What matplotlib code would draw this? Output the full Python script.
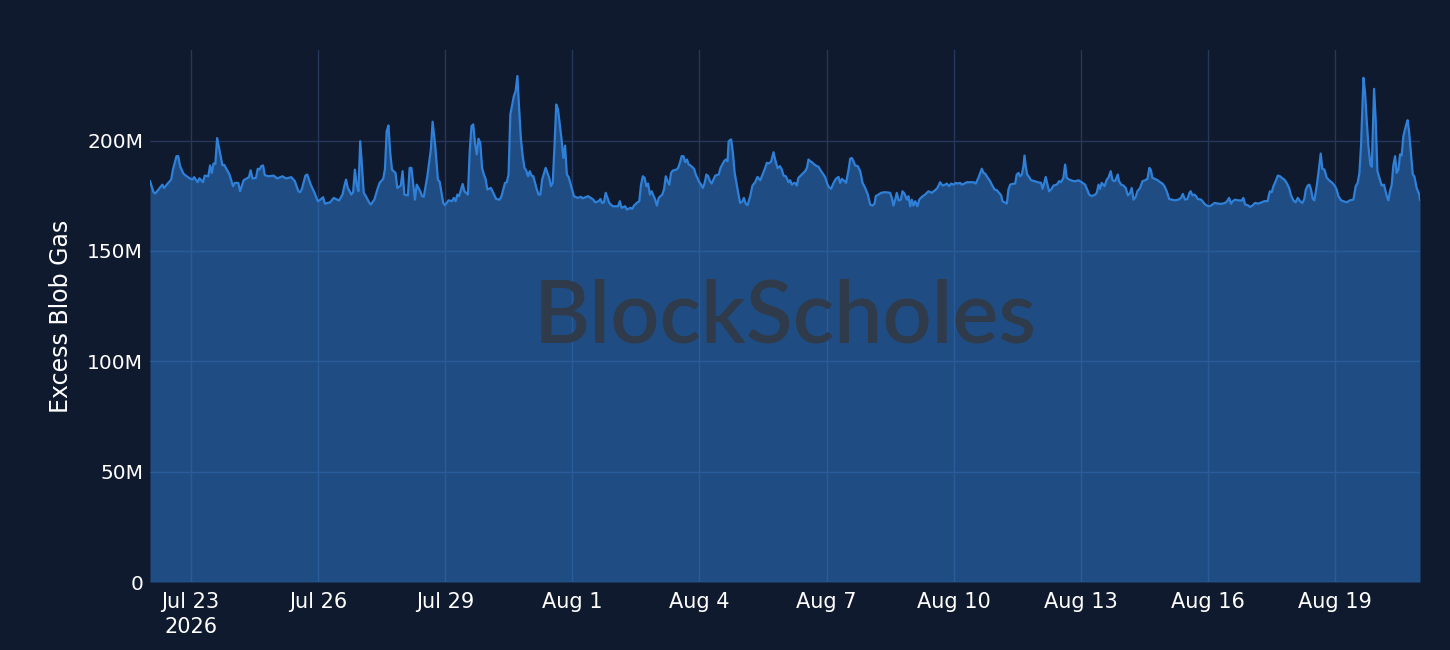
import matplotlib
matplotlib.use("Agg")
import matplotlib.pyplot as plt
import pandas as pd
import numpy as np

# ---- data: hours after 2026-07-22 00:00, excess blob gas in millions ----
hours = [
    1, 3, 4, 8, 9, 11, 13, 14, 16, 17, 18, 20, 23, 25, 26, 28, 29, 31, 32, 34, 35, 36, 37, 38, 39, 40,
    42, 43, 46, 48, 49, 51, 52, 54, 57, 58, 59, 61, 62, 63, 64, 65, 66, 68, 71, 73, 76, 78, 81, 83, 85,
    86, 87, 89, 90,
    92, 94, 96, 97, 99, 100, 103, 105, 108, 110, 111, 112, 113, 115, 116, 117, 118, 119, 120, 121, 122,
    123, 125, 126, 128, 130, 131, 133, 134, 135, 136, 137, 138, 140, 141, 143, 144, 145, 147, 148, 149,
    151, 152, 154, 155, 156, 158, 160, 161, 162.5, 164, 165, 167, 168, 170, 172, 173, 174, 175, 176, 178,
    179, 181,
    182, 183, 184, 185, 186, 187, 188, 189, 190, 191, 192, 194, 196, 197, 199, 200, 202, 203, 204, 205,
    207, 208, 209, 210, 211, 212, 213, 214, 215, 216, 217, 218, 220, 221, 222, 223, 225, 227, 228, 229,
    230, 231, 232, 234, 235, 236, 237, 238, 240, 241, 243, 245, 246, 249, 252, 253, 255, 256, 257, 258,
    259, 261, 263, 266, 267, 268, 270,
    271, 273, 274, 275, 277, 278, 279, 280, 281, 282, 283, 284, 285, 287, 288, 289, 291, 292, 293, 294,
    295, 296, 297, 299, 300, 301, 302, 303, 304, 305, 306, 307, 309, 310, 312, 313, 314, 315, 316, 317,
    318, 319, 321, 323, 324, 325, 326, 327, 328, 328.6, 330, 331, 332, 334, 335.1, 336.5, 337.2, 338.3,
    339.3, 340.8, 342.1, 343.6, 344.9, 346.5, 347.8, 349.3, 350.2, 351.5, 352.7, 354.0, 354.9, 356.3,
    357.6, 358.7, 359.7, 361.0,
    362.5, 363.4, 364.4, 365.7, 366.6, 367.2, 368.1, 370.0, 371.9, 372.9, 373.8, 374.8, 375.7, 377.2,
    378.5, 379.5, 380.4, 381.7, 383.2, 384.6, 385.5, 386.6, 388.0, 389.3, 390.8, 391.7, 392.7, 394.2,
    395.1, 396.5, 397.4, 398.3, 399.3, 400.2, 401.7, 403.1, 404.4, 405.9, 407.4, 408.7, 410.0, 411.2,
    411.9, 413.4, 414.9, 417.2, 420.0, 421.0, 421.9, 422.9, 423.8, 424.8, 426.1, 427.0, 428.1, 429.5,
    430.4, 431.4, 432.3, 433.2, 434.2, 435.5, 436.5, 438.0, 439.8, 441.7, 443.6, 445.5, 446.8, 448.3,
    449.7, 451.2,
    452.1, 453.4, 454.6, 455.9, 457.2, 458.3, 459.6, 460.6, 462.1, 463.4, 465.3, 467.2, 468.5, 470.0,
    471.0, 471.9, 472.9, 473.8, 475.3, 476.6, 477.6, 479.1, 480.4, 481.7, 482.9, 483.6, 484.7, 486.1,
    487.0, 488.0, 488.9, 490.8, 491.7, 492.7, 493.6, 494.6, 495.5, 496.1, 496.8, 497.6, 498.7, 499.8,
    501.7, 503.6, 505.5, 506.3, 507.2, 508.1, 509.1, 510.0, 511.2, 512.5, 514.4, 515.7, 516.8, 518.1,
    519.1, 520.0, 521.4, 523.8, 525.3, 526.6, 528.5, 530.4, 531.4, 532.7, 534.2, 536.1, 537.0, 538.0,
    538.9, 539.8, 541.4, 542.7,
    543.6, 544.9, 545.9, 547.4, 548.9, 549.6, 550.8, 552.1, 553.4, 554.6, 555.9, 556.8, 557.8, 559.1,
    560.0, 561.5, 562.9, 564.4, 565.7, 566.8, 567.6, 568.5, 570.0, 571.5, 572.9, 574.2, 575.3, 576.6,
    578.0, 579.5, 581.3, 583.2, 584.7, 585.7, 587.0, 588.3, 589.5, 590.2, 591.2, 592.3, 593.2, 594.2,
    596.1, 597.4, 598.3, 600.2, 601.7, 603.6, 605.9, 607.8, 609.6, 610.8, 611.9, 613.0, 614.0, 615.3,
    617.2, 619.1, 620.0, 621.0, 622.5, 623.8, 625.1, 626.6, 628.5, 630.4, 631.9,
    633.8, 634.5, 635.1, 636.1, 637.0, 638.3, 639.5, 640.8, 641.7, 643.2, 644.5, 645.9, 647.0, 648.3,
    649.6, 650.8, 652.1, 653.4, 654.5, 655.3, 656.4, 657.4, 658.3, 659.3, 660.2, 661.5, 662.5, 663.8,
    664.7, 665.9, 667.2, 669.1, 670.4, 671.9, 672.8, 673.8, 675.3, 676.6, 678.5, 680.4, 682.3, 683.6,
    684.7, 685.7, 686.6, 688.0, 688.9, 689.8, 690.8, 691.9, 692.7, 694.0, 694.9, 695.9, 697.4, 698.3,
    699.6, 701.2, 702.1, 703.0, 704.0, 704.9, 705.9, 706.8, 707.8, 708.7, 709.6, 710.6, 711.5, 712.5,
    713.0, 713.8, 714.7, 715.9, 716.8, 718.1, 719.6, 720.0,
]

excess_blob_gas_m = [
    181.6, 176.6, 176.0, 180.0, 178.5, 180.5, 182.3, 186.8, 192.9, 192.9, 188.4, 184.9, 183.1, 182.3,
    183.4, 181.1, 182.9, 181.1, 184.1, 183.8, 188.7, 185.3, 189.6, 189.4, 201.1, 197.1, 188.7, 189.0,
    184.6, 179.3, 180.8, 180.8, 177.0, 182.0, 183.4, 186.5, 182.8, 183.1, 187.2, 186.8, 188.4, 188.7,
    184.3, 183.8, 184.1, 182.8, 183.8, 182.8, 183.4, 181.6, 177.0, 176.6, 178.1, 184.1, 184.6,
    180.0, 176.6, 172.5, 172.9, 174.3, 171.4, 172.0, 174.0, 172.8, 175.5, 179.3, 182.3, 178.5, 175.5,
    176.6, 186.8, 180.0, 177.0, 199.7, 188.4, 176.3, 175.1, 172.0, 171.0, 173.2, 178.5, 180.8, 182.6,
    186.8, 204.2, 206.8, 194.4, 186.8, 185.3, 178.5, 179.6, 186.1, 175.5, 175.1, 187.6, 187.6, 173.2,
    180.0, 177.0, 174.8, 174.5, 183.8, 195.9, 208.5, 197.4, 182.3, 181.3, 171.7, 170.7, 172.9, 172.5,
    174.0, 172.5, 175.5, 174.8, 180.3, 177.0, 175.5,
    195.0, 206.5, 207.3, 198.9, 193.7, 200.8, 198.9, 187.6, 184.6, 182.6, 177.8, 178.5, 175.1, 173.5,
    173.2, 174.8, 180.8, 181.1, 184.6, 211.8, 220.1, 222.4, 229.2, 214.1, 200.5, 192.9, 187.6, 186.4,
    183.8, 186.1, 184.1, 183.8, 177.8, 175.5, 175.5, 182.3, 187.6, 183.1, 179.3, 180.8, 197.4, 216.3,
    214.1, 200.5, 192.1, 197.7, 184.6, 183.5, 177.8, 174.8, 174.0, 174.5, 173.8, 174.8, 173.2, 172.0,
    172.5, 173.5, 171.7, 172.0, 176.3, 171.7, 170.2, 170.2, 172.5, 169.5, 170.2,
    168.7, 169.5, 169.0, 170.5, 172.0, 172.5, 180.0, 183.8, 183.1, 179.3, 180.5, 175.5, 177.0, 173.2,
    170.5, 174.0, 175.5, 177.8, 183.8, 181.6, 180.0, 185.3, 186.4, 186.8, 187.6, 189.9, 192.9, 192.9,
    190.2, 191.4, 189.1, 188.7, 187.2, 184.6, 181.1, 180.0, 178.5, 180.8, 184.6, 183.8, 181.6, 180.5,
    184.1, 184.6, 187.6, 189.1, 190.6, 191.4, 190.6, 199.7, 200.5, 194.4, 185.3, 176.3, 171.7, 172.5,
    174.0, 171.3, 170.7, 174.8, 179.6, 181.1, 183.5, 182.0, 184.6, 187.6, 189.9, 189.6, 190.6, 194.7,
    191.4, 187.5, 188.4, 186.8, 184.1, 183.8,
    181.1, 182.0, 180.0, 180.8, 180.5, 179.6, 183.1, 184.6, 186.1, 187.6, 191.4, 190.6, 190.2, 189.1,
    188.4, 188.1, 186.8, 185.3, 183.5, 180.0, 178.8, 178.1, 180.8, 182.6, 183.5, 180.8, 182.6, 181.6,
    180.8, 186.8, 191.7, 192.1, 190.6, 188.7, 188.4, 186.1, 180.8, 178.5, 175.5, 171.0, 170.5, 171.4,
    174.8, 175.5, 176.3, 176.6, 176.3, 174.0, 170.5, 173.2, 176.3, 172.9, 173.2, 177.0, 176.0, 173.2,
    174.8, 170.2, 173.2, 170.5, 172.5, 170.2, 173.2, 174.5, 175.5, 177.0, 176.3, 177.5, 178.5, 181.1,
    179.6, 180.0,
    180.5, 179.3, 180.5, 180.0, 180.8, 180.5, 180.8, 180.0, 180.5, 181.1, 181.1, 181.1, 180.5, 183.1,
    185.3, 187.2, 185.3, 185.0, 183.1, 181.6, 180.0, 177.8, 177.5, 176.3, 175.1, 172.5, 172.0, 171.4,
    177.8, 180.0, 180.3, 180.5, 184.6, 185.3, 183.8, 184.6, 188.4, 193.2, 188.4, 184.6, 183.5, 182.0,
    181.6, 181.1, 180.8, 178.1, 180.5, 183.5, 180.0, 177.0, 177.8, 179.6, 180.0, 181.6, 181.1, 183.1,
    189.1, 183.1, 182.3, 181.6, 181.6, 182.0, 181.1, 180.0, 178.1, 175.5, 174.8, 175.5, 176.3, 180.0,
    178.1, 180.8, 179.3, 182.3,
    183.1, 186.1, 182.0, 181.6, 184.6, 181.6, 180.0, 179.6, 178.5, 175.1, 176.3, 178.5, 173.2, 174.5,
    177.0, 178.5, 181.6, 182.0, 182.6, 187.6, 186.8, 183.1, 182.6, 182.0, 181.1, 180.5, 179.3, 177.0,
    173.5, 173.2, 172.9, 173.2, 174.0, 175.8, 173.2, 173.5, 176.3, 177.0, 175.1, 175.5, 174.8, 173.5,
    173.2, 172.0, 171.0, 170.2, 170.5, 171.7, 171.4, 171.3, 171.7, 172.5, 174.0, 171.4, 172.5, 173.2,
    172.9, 172.8, 174.0, 171.0, 170.7, 169.9, 170.5, 171.7, 171.4, 172.0, 172.5,
    172.6, 175.5, 177.0, 176.6, 179.3, 181.6, 184.1, 183.8, 183.1, 182.3, 180.8, 178.5, 175.1, 172.9,
    172.0, 174.0, 172.5, 171.7, 173.5, 177.5, 179.6, 180.0, 177.8, 173.5, 172.9, 179.3, 185.3, 194.1,
    187.2, 186.8, 183.1, 181.6, 180.8, 179.3, 177.8, 174.8, 172.9, 172.5, 172.0, 172.9, 173.2, 179.3,
    180.8, 185.3, 197.4, 228.4, 221.6, 209.5, 197.4, 189.1, 188.1, 223.4, 209.5, 186.1, 182.0, 179.6,
    180.0, 174.8, 172.9, 177.0, 180.0, 188.7, 192.9, 185.3, 186.8, 193.7, 193.2, 202.0, 205.0, 208.0,
    209.2, 204.2, 195.9, 184.6, 183.8, 178.5, 175.5, 173.2,
]

start_time = "2026-07-22"
tick_dates = ["2026-07-23", "2026-07-26", "2026-07-29", "2026-08-01", "2026-08-04",
              "2026-08-07", "2026-08-10", "2026-08-13", "2026-08-16", "2026-08-19"]
y_ticks_m = [0, 50, 100, 150, 200]
y_label = "Excess Blob Gas"
watermark = "BlockScholes"

# ---- styling ----
BG = "#101a2e"
GRID = "#25375a"
LINE = "#2f80d8"
TEXT = "#ffffff"

times = pd.Timestamp(start_time) + pd.to_timedelta(np.array(hours), unit="h")
vals = np.array(excess_blob_gas_m)

fig = plt.figure(figsize=(14.5, 6.5), dpi=100, facecolor=BG)
ax = fig.add_axes([150 / 1450, 68 / 650, 1270 / 1450, 532 / 650])
ax.set_facecolor(BG)

ax.fill_between(times, vals, 0, color=LINE, alpha=0.5, linewidth=0, zorder=2)
ax.plot(times, vals, color=LINE, linewidth=1.6, zorder=4)

ax.set_xlim(times[0], times[-1])
ax.set_ylim(0, 241)

ticks = pd.to_datetime(tick_dates)
labels = [f"{d:%b} {d.day}" for d in ticks]
labels[0] = labels[0] + "\n2026"
ax.set_xticks(ticks)
ax.set_xticklabels(labels, linespacing=1.3)
ax.set_yticks(y_ticks_m)
ax.set_yticklabels(["0" if v == 0 else f"{v}M" for v in y_ticks_m])

ax.tick_params(axis="x", length=0, colors=TEXT, labelsize=15, pad=7)
ax.tick_params(axis="y", length=0, colors=TEXT, labelsize=14.5, pad=5)
ax.grid(True, color=GRID, linewidth=1.0, zorder=1)
ax.set_axisbelow(True)
for s in ax.spines.values():
    s.set_visible(False)

ax.set_ylabel(y_label, color=TEXT, fontsize=17, labelpad=10)

ax.text(0.5, 0.497, watermark, transform=ax.transAxes, ha="center", va="center",
        fontsize=62, family="Lato", fontweight="semibold", color="#303a47", alpha=0.95, zorder=3)

fig.savefig("out.png", dpi=100, facecolor=BG)
